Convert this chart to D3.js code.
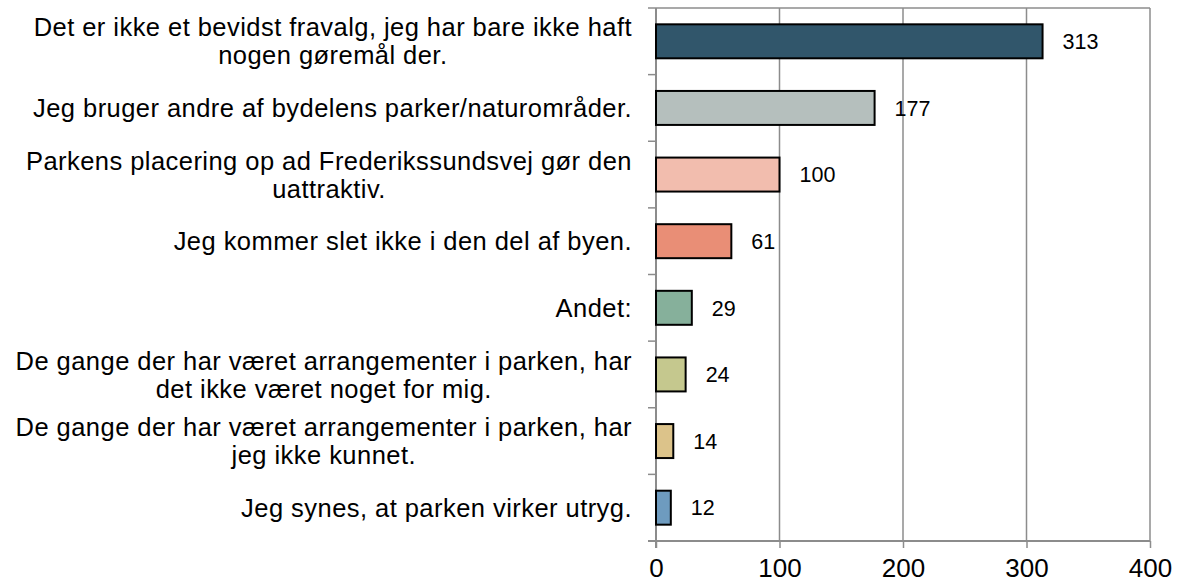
<!DOCTYPE html>
<html>
<head>
<meta charset="utf-8">
<script src="https://cdn.jsdelivr.net/npm/d3@7"></script>
<style>
  body { margin: 0; background: #fff; }
  text { font-family: "Liberation Sans", Arial, sans-serif; fill: #000; }
</style>
</head>
<body>
<svg id="chart" width="1182" height="588"></svg>
<script>
// kategorier (linjeskift som i originalen)
var categories = [
  "Det er ikke et bevidst fravalg, jeg har bare ikke haft\nnogen gøremål der.",
  "Jeg bruger andre af bydelens parker/naturområder.",
  "Parkens placering op ad Frederikssundsvej gør den\nuattraktiv.",
  "Jeg kommer slet ikke i den del af byen.",
  "Andet:",
  "De gange der har været arrangementer i parken, har\ndet ikke været noget for mig.",
  "De gange der har været arrangementer i parken, har\njeg ikke kunnet.",
  "Jeg synes, at parken virker utryg."
];
var values = [313, 177, 100, 61, 29, 24, 14, 12];
var barColors = ["#31566b", "#b5bfbd", "#f2bdae", "#e98e76", "#86b09b", "#c5c88e", "#dcc38a", "#6e9bbf"];
var xTicks = [0, 100, 200, 300, 400];

var svg = d3.select("#chart");
var pLeft = 656, pRight = 1150, pTop = 8, pBottom = 541;

var x = d3.scaleLinear().domain([0, 400]).range([pLeft, pRight]);
var y = d3.scaleBand().domain(categories).range([pTop, pBottom])
  .paddingInner(0.49).paddingOuter(0.245);

var gridColor = "#8c8c8c";

// gitterlinjer
svg.selectAll("line.grid").data(xTicks.slice(1)).enter().append("line")
  .attr("class", "grid")
  .attr("x1", function(d){ return x(d); }).attr("x2", function(d){ return x(d); })
  .attr("y1", pTop).attr("y2", pBottom)
  .attr("stroke", gridColor).attr("stroke-width", 1.5);
svg.append("line")
  .attr("x1", pLeft).attr("x2", pRight).attr("y1", pTop).attr("y2", pTop)
  .attr("stroke", gridColor).attr("stroke-width", 1.5);

// x-akse
var xAxis = d3.axisBottom(x).tickValues(xTicks).tickSize(7).tickPadding(11);
var gx = svg.append("g").attr("transform", "translate(0," + pBottom + ")").call(xAxis);
gx.select(".domain").remove();
gx.selectAll(".tick line").attr("stroke", gridColor).attr("stroke-width", 1.5);
gx.selectAll(".tick text").attr("font-size", 26).attr("font-family", "Liberation Sans, Arial, sans-serif").attr("fill", "#000");
svg.append("line")
  .attr("x1", pLeft - 8).attr("x2", pRight).attr("y1", pBottom).attr("y2", pBottom)
  .attr("stroke", gridColor).attr("stroke-width", 2);

// y-akse med streger mellem kategorierne
var step = y.step();
var bounds = d3.range(categories.length + 1).map(function(i){ return pTop + i * step; });
svg.selectAll("line.ytick").data(bounds).enter().append("line")
  .attr("class", "ytick")
  .attr("x1", pLeft - 8).attr("x2", pLeft)
  .attr("y1", function(d){ return d; }).attr("y2", function(d){ return d; })
  .attr("stroke", gridColor).attr("stroke-width", 1.5);
svg.append("line")
  .attr("x1", pLeft).attr("x2", pLeft).attr("y1", pTop).attr("y2", pBottom + 7)
  .attr("stroke", gridColor).attr("stroke-width", 2);

// søjler
svg.selectAll("rect.bar").data(values).enter().append("rect")
  .attr("class", "bar")
  .attr("x", x(0))
  .attr("y", function(d, i){ return y(categories[i]); })
  .attr("width", function(d){ return x(d) - x(0); })
  .attr("height", y.bandwidth())
  .attr("fill", function(d, i){ return barColors[i]; })
  .attr("stroke", "#000").attr("stroke-width", 2);

// værdier
svg.selectAll("text.val").data(values).enter().append("text")
  .attr("class", "val")
  .attr("x", function(d){ return x(d) + 20; })
  .attr("y", function(d, i){ return y(categories[i]) + y.bandwidth() / 2; })
  .attr("dy", "0.36em")
  .attr("font-size", 21.5)
  .text(function(d){ return d; });

// kategoritekster, flere linjer centreres
var labelRight = 632, lineH = 28, fs = 25.5;
categories.forEach(function(c){
  var lines = c.split("\n");
  var cy = y(c) + y.bandwidth() / 2;
  var t = svg.append("text").attr("font-size", fs).attr("letter-spacing", "0.45px");
  lines.forEach(function(l, j){
    t.append("tspan").text(l)
      .attr("y", cy + (j - (lines.length - 1) / 2) * lineH)
      .attr("dy", "0.36em");
  });
  if (lines.length == 1) {
    t.attr("text-anchor", "end").selectAll("tspan").attr("x", labelRight);
  } else {
    var w = 0;
    t.selectAll("tspan").each(function(){ w = Math.max(w, this.getComputedTextLength()); });
    t.attr("text-anchor", "middle").selectAll("tspan").attr("x", labelRight - w / 2);
  }
});
</script>
</body>
</html>
